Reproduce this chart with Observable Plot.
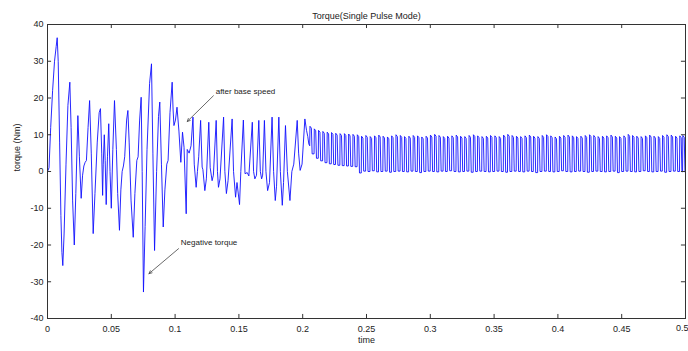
<!DOCTYPE html>
<html>
<head>
<meta charset="utf-8">
<script src="https://cdn.jsdelivr.net/npm/d3@7"></script>
<script src="https://cdn.jsdelivr.net/npm/@observablehq/plot@0.6"></script>
<style>
  html, body { margin: 0; padding: 0; background: #fff; }
  svg { font-family: "Liberation Sans", Arial, sans-serif; }
</style>
</head>
<body>
<div id="chart"></div>
<script>
// ---- Data (time in s, torque in Nm) ----
const titleText = "Torque(Single Pulse Mode)";
const xLabel = "time";
const yLabel = "torque (Nm)";
const xTicks = [0, 0.05, 0.1, 0.15, 0.2, 0.25, 0.3, 0.35, 0.4, 0.45, 0.5];
const yTicks = [-40, -30, -20, -10, 0, 10, 20, 30, 40];

// Start-up transient: extrema and shoulders (0 – 0.205 s)
const transT = [
  0.0000, 0.0012, 0.0025, 0.0040, 0.0055, 0.0068, 0.0076, 0.0084, 0.0095, 0.0105,
  0.0113, 0.0120, 0.0130, 0.0145, 0.0160, 0.0175, 0.0185, 0.0197, 0.0210, 0.0222,
  0.0238, 0.0250, 0.0264, 0.0275, 0.0285, 0.0295, 0.0305, 0.0318, 0.0330, 0.0343,
  0.0358, 0.0372, 0.0390, 0.0405, 0.0415, 0.0425, 0.0432, 0.0437, 0.0445, 0.0452,
  0.0460, 0.0470, 0.0480, 0.0490, 0.0500, 0.0512, 0.0525, 0.0540, 0.0550, 0.0564,
  0.0575, 0.0585, 0.0595, 0.0605, 0.0620, 0.0630, 0.0640, 0.0655, 0.0672, 0.0685,
  0.0700, 0.0710, 0.0722, 0.0734, 0.0742, 0.0752, 0.0765, 0.0780, 0.0800, 0.0815,
  0.0826, 0.0839, 0.0855, 0.0870, 0.0880, 0.0893, 0.0907, 0.0920, 0.0935, 0.0945,
  0.0960, 0.0977, 0.0984, 0.0991, 0.1003, 0.1015, 0.1030, 0.1045, 0.1058, 0.1070,
  0.1087, 0.1095, 0.1110, 0.1125, 0.1140, 0.1150, 0.1165, 0.1175, 0.1185, 0.1200,
  0.1212, 0.1218, 0.1233, 0.1245, 0.1264, 0.1275, 0.1290, 0.1300, 0.1322, 0.1332,
  0.1340, 0.1352, 0.1380, 0.1390, 0.1402, 0.1415, 0.1447, 0.1458, 0.1474, 0.1485,
  0.1505, 0.1515, 0.1535, 0.1548, 0.1565, 0.1578, 0.1605, 0.1615, 0.1625, 0.1638,
  0.1656, 0.1668, 0.1678, 0.1686, 0.1700, 0.1712, 0.1725, 0.1740, 0.1760, 0.1772,
  0.1785, 0.1795, 0.1813, 0.1825, 0.1840, 0.1850, 0.1865, 0.1880, 0.1900, 0.1915,
  0.1930, 0.1957, 0.1968, 0.1980, 0.1995, 0.2017, 0.2030, 0.2040, 0.2048
];
const transV = [
  0, 1, 12, 22, 30, 34, 36.4, 30, 8, -12,
  -22, -25.6, -17, 2, 18, 24.3, 12, -8, -20, -6,
  15.2, 4, -7.3, -1, 1.5, 2.5, 3, 12, 19.3, 5,
  -16.9, -6, 8, 16, 17.1, 5, -6.5, 2, 10, 3,
  -9, 4, 13, 0, -10, 6, 19.3, 6, -6, -16,
  -5, 0, 1.5, 4, 14, 16.6, 8, -8, -17.9, -6,
  3, 4, 14, 20.2, 0, -32.8, -15, 6, 24, 29.3,
  5, -21.5, 0, 15, 18.9, 2, -15.1, -5, 2, 3,
  16, 24.3, 17, 12.5, 14, 17.5, 11, 2.5, 10.7, 6.6,
  -11.5, 6, 5, 7, 14.8, 2, -4.3, 0, 4, 13.9,
  1.2, 0.5, -5.2, -2, 13.4, 1, -2.5, -1, 13.9, 0,
  -4.3, -2, 14.8, 0, -6, -2.5, 14.3, 0, -7, -3,
  -9, 0, 14, -0.6, -0.3, -1.2, 13.4, 0, -2, -1,
  13.9, 0, -2, -1, 13.9, 0, -5.2, -3, 14.8, 0,
  -7.9, -4, 14.8, 0, -9.2, -3, 12.5, 0, -7.9, 0,
  2, 13.9, 5, 0.3, 2, 14.3, 11.2, 9.5, 7.5
];

// Pulse train after 0.205 s: rise time, top value, base value before each pulse
const pulseT = [
  0.2055, 0.2089, 0.2122, 0.2156, 0.2190, 0.2224, 0.2257, 0.2291, 0.2325, 0.2358,
  0.2392, 0.2426, 0.2459, 0.2493, 0.2527, 0.2561, 0.2594, 0.2628, 0.2662, 0.2695,
  0.2729, 0.2763, 0.2796, 0.2830, 0.2864, 0.2898, 0.2931, 0.2965, 0.2999, 0.3032,
  0.3066, 0.3100, 0.3133, 0.3167, 0.3201, 0.3235, 0.3268, 0.3302, 0.3336, 0.3369,
  0.3403, 0.3437, 0.3470, 0.3504, 0.3538, 0.3572, 0.3605, 0.3639, 0.3673, 0.3706,
  0.3740, 0.3774, 0.3807, 0.3841, 0.3875, 0.3909, 0.3942, 0.3976, 0.4010, 0.4043,
  0.4077, 0.4111, 0.4144, 0.4178, 0.4212, 0.4246, 0.4279, 0.4313, 0.4347, 0.4380,
  0.4414, 0.4448, 0.4481, 0.4515, 0.4549, 0.4583, 0.4616, 0.4650, 0.4684, 0.4717,
  0.4751, 0.4785, 0.4818, 0.4852, 0.4886, 0.4920, 0.4953, 0.4977
];
const pulseTop = [
  12.3, 11.6, 11.2, 10.9, 10.7, 10.6, 10.4, 10.3, 10.3, 10.2, 10.1, 10.0,
  9.6, 9.8, 9.5, 9.7, 9.9, 9.6, 9.4, 9.7, 10.0, 9.8,
  9.5, 9.6, 9.8, 9.7, 9.4, 9.6, 9.9, 10.1, 9.8, 9.5,
  9.6, 9.7, 9.9, 9.6, 9.5, 9.8, 10.0, 9.7, 9.5, 9.6,
  9.8, 9.7, 9.5, 9.9, 10.1, 9.8, 9.6, 9.5, 9.7, 9.9,
  9.6, 9.5, 9.8, 10.0, 9.7, 9.4, 9.6, 9.8, 9.9, 9.7,
  9.5, 9.6, 9.8, 10.0, 9.8, 9.5, 9.6, 9.7, 9.9, 9.6,
  9.5, 9.7, 10.1, 9.8, 9.6, 9.5, 9.7, 9.9, 9.6, 9.5,
  9.8, 10.0, 9.9, 9.6, 9.7, 9.8
];
const pulseBase = [
  7.0, 4.8, 3.6, 2.9, 2.4, 2.1, 1.9, 1.7, 1.6, 1.5, 1.4, 1.3,
  -0.4, 0.1, 0.0, 0.2, -0.1, 0.0, 0.1, -0.2, 0.0, 0.1,
  0.0, -0.1, 0.1, 0.0, -0.3, 0.0, 0.1, 0.0, -0.1, 0.1,
  0.0, 0.2, 0.0, -0.1, 0.0, 0.1, -0.2, 0.0, 0.1, 0.0,
  -0.1, 0.0, 0.1, 0.0, -0.2, 0.0, 0.1, 0.0, -0.1, 0.1,
  0.0, -0.3, 0.0, 0.1, 0.0, -0.1, 0.0, 0.2, 0.0, -0.1,
  0.0, 0.1, 0.0, -0.2, 0.0, 0.1, 0.0, -0.1, 0.0, 0.1,
  -0.3, 0.0, 0.1, 0.0, -0.1, 0.0, 0.2, 0.0, -0.1, 0.0,
  0.1, -0.2, 0.0, 0.1, 0.0, -0.1
];
// Pulse outline: rise, top, end of top, fall (s after rise)
const pulseShapeDt = [0, 0.0002, 0.0013, 0.0019];

// ---- Build the series ----
const series = transT.map((t, i) => ({t, v: transV[i]}));
pulseT.forEach((t, i) => {
  const top = pulseTop[i], base = pulseBase[i];
  const nextBase = i + 1 < pulseBase.length ? pulseBase[i + 1] : base;
  series.push({t: t + pulseShapeDt[0], v: base});
  series.push({t: t + pulseShapeDt[1], v: top});
  series.push({t: t + pulseShapeDt[2], v: top - 0.5});
  series.push({t: t + pulseShapeDt[3], v: nextBase});
});

const fmt = d => String(d);
const font = "Liberation Sans, Arial, sans-serif";
const xTicksInner = xTicks.slice(0, -1);
const xTickLast = xTicks.slice(-1);

const chart = Plot.plot({
  width: 688,
  height: 351,
  marginLeft: 47,
  marginRight: 3,
  marginTop: 24,
  marginBottom: 33,
  style: {fontFamily: font, fontSize: "9px", background: "#fff"},
  x: {domain: [0, 0.5], ticks: xTicks, tickFormat: fmt},
  y: {domain: [-40, 40], ticks: yTicks, tickFormat: fmt},
  marks: [
    Plot.line(series, {x: "t", y: "v", stroke: "#1010ff", strokeWidth: 0.9}),
    // inward ticks (MATLAB style) on all four sides
    Plot.ruleX(xTicks, {y1: -40, y2: -38.9, stroke: "#333", strokeWidth: 1}),
    Plot.ruleX(xTicks, {y1: 40, y2: 38.9, stroke: "#333", strokeWidth: 1}),
    Plot.ruleY(yTicks, {x1: 0, x2: 0.0032, stroke: "#333", strokeWidth: 1}),
    Plot.ruleY(yTicks, {x1: 0.5, x2: 0.4968, stroke: "#333", strokeWidth: 1}),
    Plot.frame({stroke: "#333", strokeWidth: 1}),
    Plot.axisX({ticks: xTicksInner, tickFormat: fmt, tickSize: 0, tickPadding: 7, label: null, fill: "#222"}),
    Plot.text(xTickLast, {x: d => d, frameAnchor: "bottom", dy: 12, textAnchor: "end", dx: 3, text: fmt, fontSize: 9, fill: "#222"}),
    Plot.axisY({ticks: yTicks, tickFormat: fmt, tickSize: 0, tickPadding: 4, label: null, fill: "#222"}),
    // title and axis labels
    Plot.text([titleText], {frameAnchor: "top", dy: -12, fontSize: 9, fill: "#222"}),
    Plot.text([xLabel], {frameAnchor: "bottom", dy: 24, fontSize: 9, fill: "#222"}),
    Plot.text([yLabel], {frameAnchor: "left", dx: -30, rotate: -90, fontSize: 9, fill: "#222"}),
    // annotations
    Plot.text(["after base speed"], {x: 0.1318, y: 21.8, textAnchor: "start", fontSize: 8, fill: "#222"}),
    Plot.arrow([0], {x1: 0.1300, y1: 20.6, x2: 0.1095, y2: 13.6, stroke: "#444", strokeWidth: 0.8, headLength: 6, headAngle: 50}),
    Plot.text(["Negative torque"], {x: 0.1045, y: -19.3, textAnchor: "start", fontSize: 8, fill: "#222"}),
    Plot.arrow([0], {x1: 0.1027, y1: -21.0, x2: 0.0795, y2: -27.8, stroke: "#444", strokeWidth: 0.8, headLength: 6, headAngle: 50})
  ]
});
document.getElementById("chart").appendChild(chart);
</script>
</body>
</html>
